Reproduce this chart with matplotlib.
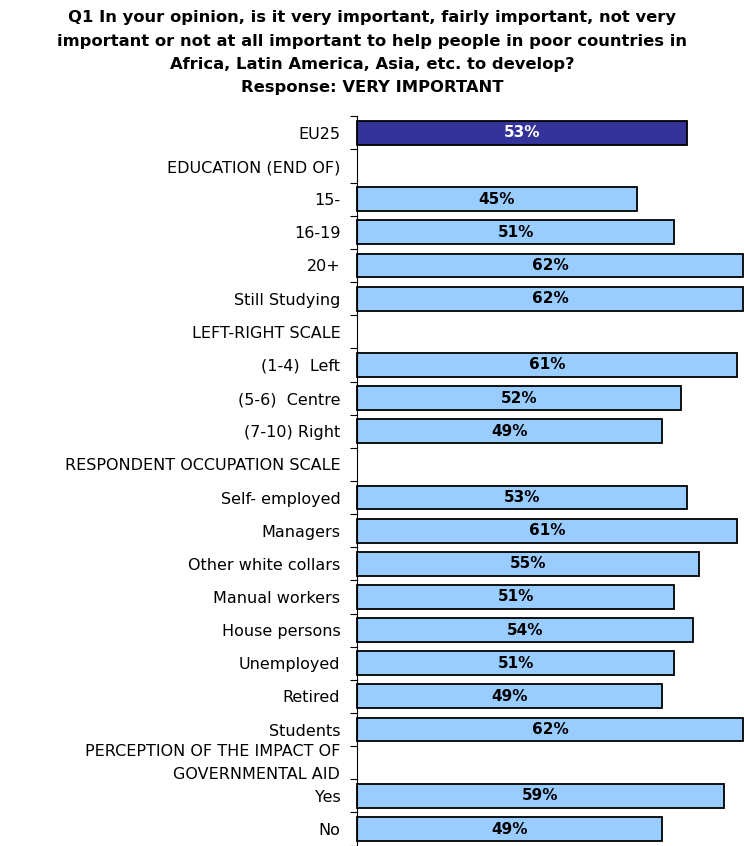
import matplotlib.pyplot as plt
import numpy as np

plt.rcParams['font.family'] = ['DejaVu Sans']

categories = [
    'EU25', 'EDUCATION (END OF)', '15-', '16-19', '20+', 'Still Studying',
    'LEFT-RIGHT SCALE', '(1-4)  Left', '(5-6)  Centre', '(7-10) Right',
    'RESPONDENT OCCUPATION SCALE', 'Self- employed', 'Managers',
    'Other white collars', 'Manual workers', 'House persons', 'Unemployed',
    'Retired', 'Students', 'PERCEPTION OF THE IMPACT OF\nGOVERNMENTAL AID',
    'Yes', 'No',
]
# None = section header row (no bar)
values = [53, None, 45, 51, 62, 62, None, 61, 52, 49, None,
          53, 61, 55, 51, 54, 51, 49, 62, None, 59, 49]

title = ('Q1 In your opinion, is it very important, fairly important, not very\n'
         'important or not at all important to help people in poor countries in\n'
         'Africa, Latin America, Asia, etc. to develop?\n'
         'Response: VERY IMPORTANT')

fig = plt.figure(figsize=(7.44, 8.46), dpi=100)
ax = fig.add_axes([357 / 744, 0.0005, 1 - 357 / 744, 0.862])

n = len(categories)
y = np.arange(n)
for i, v in enumerate(values):
    if v is None:
        continue
    color = '#333399' if i == 0 else '#99CCFF'
    txt = 'white' if i == 0 else 'black'
    ax.barh(i, v, height=0.72, color=color, edgecolor='black', linewidth=1.3,
            clip_on=False)
    ax.text(v / 2, i, f'{v}%', ha='center', va='center', color=txt,
            fontsize=11, fontweight='bold')

ax.set_ylim(n - 0.5, -0.5)
ax.set_xlim(0, 62.2)
ax.set_yticks(y)
ax.set_yticklabels(categories, fontsize=11.5, linespacing=1.7)
for lbl in ax.get_yticklabels():
    if '\n' in lbl.get_text():
        lbl.set_verticalalignment('center')
ax.tick_params(axis='y', which='major', length=0, pad=12)
ax.set_yticks(np.arange(n + 1) - 0.5, minor=True)
ax.tick_params(axis='y', which='minor', length=5, width=0.8)
ax.set_xticks([])
for s in ['top', 'right', 'bottom']:
    ax.spines[s].set_visible(False)
ax.spines['left'].set_linewidth(0.8)

fig.text(0.5, 0.988, title, ha='center', va='top', fontsize=11.8,
         fontweight='bold', linespacing=1.7)

fig.savefig('out.png', dpi=100)
